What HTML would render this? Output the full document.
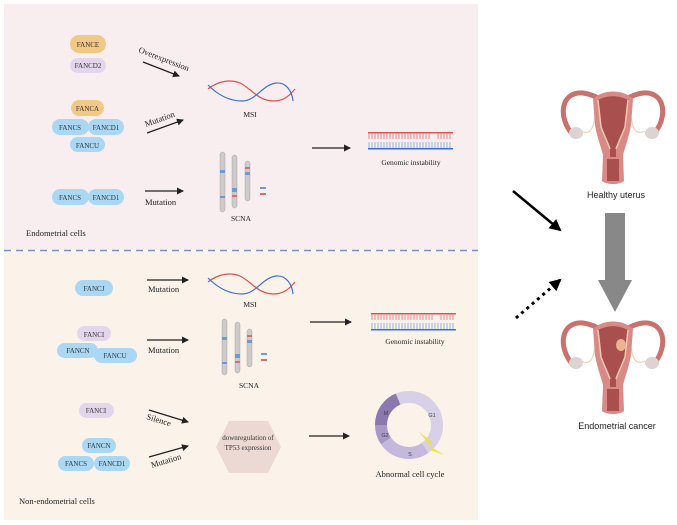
<!DOCTYPE html>
<html><head><meta charset="utf-8"><style>
html,body{margin:0;padding:0;background:#fff;}
svg{display:block;font-family:"Liberation Serif",serif;}
.s{font-family:"Liberation Sans",sans-serif;}
</style></head><body>
<svg width="677" height="525" viewBox="0 0 677 525" xmlns="http://www.w3.org/2000/svg">
<defs>
<marker id="ah" markerWidth="8" markerHeight="8" refX="6" refY="4" orient="auto" markerUnits="userSpaceOnUse"><path d="M0,0.5 L7,4 L0,7.5 z" fill="#222"/></marker>
<marker id="ah2" markerWidth="14" markerHeight="14" refX="10" refY="7" orient="auto" markerUnits="userSpaceOnUse"><path d="M0,1 L12,7 L0,13 z" fill="#000"/></marker>
<g id="ut">
 <path d="M-40,38 C-56,20 -52,-6 -30,-4 C-22,-3 -16,0 -10,4" fill="none" stroke="#c9716c" stroke-width="5"/>
 <path d="M40,38 C56,20 52,-6 30,-4 C22,-3 16,0 10,4" fill="none" stroke="#c9716c" stroke-width="5"/>
 <path d="M-32,34 C-24,38 -20,34 -18,20" fill="none" stroke="#f2d3b0" stroke-width="1.2"/>
 <path d="M32,34 C24,38 20,34 18,20" fill="none" stroke="#f2d3b0" stroke-width="1.2"/>
 <ellipse cx="-37" cy="36" rx="7" ry="6" fill="#ddd3d3"/>
 <ellipse cx="39" cy="36" rx="7" ry="6" fill="#ddd3d3"/>
 <path d="M-20,2 C-10,-8 10,-8 20,2 L18,28 C16,40 12,50 10,58 L11,84 C6,88 -6,88 -11,84 L-10,58 C-12,50 -16,40 -18,28 Z" fill="#d98a86"/>
 <path d="M-15,3 C-6,-2 6,-2 15,3 L12,30 C9,38 5,46 3,52 L3,60 L-3,60 L-3,52 C-5,46 -9,38 -12,30 Z" fill="#a9504e"/>
 <path d="M-15,3 L-12,30 C-9,38 -5,46 -3,52 M15,3 L12,30 C9,38 5,46 3,52" fill="none" stroke="#f1c7b4" stroke-width="1.5"/>
 <path d="M-6,62 L6,62 L6,84 L-6,84 Z" fill="#a9504e"/>
</g>
<g id="msi" fill="none" stroke-width="1.2">
 <path d="M0,6 C10,-2 22,-4 32,0 C44,6 50,18 66,18 C76,18 82,12 87,6" stroke="#d9534f"/>
 <path d="M0,2 C10,12 22,18 34,18 C48,18 54,2 68,0 C78,-1 84,8 85,18" stroke="#3a6fd8"/>
</g>
</defs>
<rect x="4" y="4" width="474" height="246" fill="#f8eeef"/>
<rect x="4" y="251" width="474" height="269" fill="#fbf3ea"/>
<line x1="4" y1="250.5" x2="478" y2="250.5" stroke="#7f8fc4" stroke-width="1.5" stroke-dasharray="7,5"/>

<g font-size="7" text-anchor="middle" fill="#333">
 <rect x="70" y="35" width="36" height="18" rx="9" fill="#f2c984"/><text x="88" y="47">FANCE</text>
 <rect x="70" y="58" width="36" height="15" rx="7.5" fill="#e3d6ec"/><text x="88" y="68">FANCD2</text>
 <rect x="71" y="100" width="33" height="16" rx="8" fill="#f2c984"/><text x="87.5" y="111">FANCA</text>
 <rect x="52" y="119" width="37" height="16" rx="8" fill="#aad8f4"/><text x="70" y="130">FANCS</text>
 <rect x="88" y="119" width="36" height="16" rx="8" fill="#aad8f4"/><text x="106" y="130">FANCD1</text>
 <rect x="70" y="137" width="35" height="15" rx="7.5" fill="#aad8f4"/><text x="87.5" y="148">FANCU</text>
 <rect x="52" y="189" width="37" height="16" rx="8" fill="#aad8f4"/><text x="70" y="200">FANCS</text>
 <rect x="88" y="189" width="36" height="16" rx="8" fill="#aad8f4"/><text x="106" y="200">FANCD1</text>

 <rect x="75" y="280" width="38" height="16" rx="8" fill="#aad8f4"/><text x="94" y="291">FANCJ</text>
 <rect x="77" y="326" width="34" height="15" rx="7.5" fill="#e3d6ec"/><text x="94" y="337">FANCI</text>
 <rect x="57" y="343" width="41" height="15" rx="7.5" fill="#aad8f4"/><text x="78" y="353">FANCN</text>
 <rect x="94" y="348" width="43" height="15" rx="7.5" fill="#aad8f4"/><text x="115" y="358">FANCU</text>
 <rect x="79" y="403" width="35" height="15" rx="7.5" fill="#e3d6ec"/><text x="96" y="413">FANCI</text>
 <rect x="82" y="438" width="34" height="15" rx="7.5" fill="#aad8f4"/><text x="99" y="448">FANCN</text>
 <rect x="58" y="456" width="36" height="15" rx="7.5" fill="#aad8f4"/><text x="76" y="466">FANCS</text>
 <rect x="94" y="456" width="36" height="15" rx="7.5" fill="#aad8f4"/><text x="112" y="466">FANCD1</text>
</g>

<g stroke="#222" stroke-width="1.3" marker-end="url(#ah)">
 <line x1="143" y1="62" x2="179" y2="76"/>
 <line x1="147" y1="133" x2="183" y2="120"/>
 <line x1="145" y1="191" x2="183" y2="191"/>
 <line x1="312" y1="148" x2="350" y2="148"/>
 <line x1="147" y1="280" x2="188" y2="280"/>
 <line x1="147" y1="340" x2="188" y2="340"/>
 <line x1="310" y1="322" x2="351" y2="322"/>
 <line x1="149" y1="410" x2="188" y2="422"/>
 <line x1="149" y1="457" x2="188" y2="446"/>
 <line x1="309" y1="436" x2="349" y2="436"/>
</g>
<g font-size="8.5" fill="#222">
 <text x="138" y="52" transform="rotate(21 138 52)">Overexpression</text>
 <text x="146" y="127" transform="rotate(-20 146 127)">Mutation</text>
 <text x="145" y="205">Mutation</text>
 <text x="148" y="292">Mutation</text>
 <text x="148" y="353">Mutation</text>
 <text x="146" y="419" transform="rotate(17 146 419)">Silence</text>
 <text x="152" y="468" transform="rotate(-17 152 468)">Mutation</text>
 <text x="26" y="236">Endometrial cells</text>
 <text x="19" y="504">Non-endometrial cells</text>
</g>

<use href="#msi" transform="translate(208,83)"/>
<use href="#msi" transform="translate(208,276)"/>
<g font-size="7.5" text-anchor="middle" fill="#222">
 <text x="250" y="117">MSI</text><text x="250" y="307">MSI</text>
 <text x="241" y="221">SCNA</text><text x="249" y="388">SCNA</text>
 <text x="411" y="165">Genomic instability</text><text x="415" y="344">Genomic instability</text>
</g>

<g>
 <rect x="220" y="152" width="5" height="60" rx="2.5" fill="#cfcaca" stroke="#999" stroke-width=".4"/>
 <rect x="232" y="155" width="5" height="53" rx="2.5" fill="#cfcaca" stroke="#999" stroke-width=".4"/>
 <rect x="245" y="161" width="5" height="40" rx="2.5" fill="#cfcaca" stroke="#999" stroke-width=".4"/>
 <rect x="220" y="170" width="5" height="3" fill="#6b9bd1"/><rect x="220" y="196" width="5" height="2" fill="#6b9bd1"/>
 <rect x="232" y="188" width="5" height="4" fill="#6b9bd1"/><rect x="232" y="195" width="5" height="2" fill="#d96c6c"/>
 <rect x="245" y="172" width="5" height="3" fill="#6b9bd1"/><rect x="245" y="167" width="5" height="2" fill="#d96c6c"/>
 <rect x="260" y="187" width="6" height="2" fill="#6b9bd1"/><rect x="260" y="193" width="6" height="2" fill="#d96c6c"/>
 <rect x="222" y="319" width="5" height="56" rx="2.5" fill="#cfcaca" stroke="#999" stroke-width=".4"/>
 <rect x="235" y="322" width="5" height="51" rx="2.5" fill="#cfcaca" stroke="#999" stroke-width=".4"/>
 <rect x="247" y="329" width="5" height="38" rx="2.5" fill="#cfcaca" stroke="#999" stroke-width=".4"/>
 <rect x="222" y="337" width="5" height="3" fill="#6b9bd1"/><rect x="222" y="362" width="5" height="2" fill="#6b9bd1"/>
 <rect x="235" y="354" width="5" height="4" fill="#6b9bd1"/><rect x="235" y="361" width="5" height="2" fill="#d96c6c"/>
 <rect x="247" y="340" width="5" height="3" fill="#6b9bd1"/><rect x="247" y="335" width="5" height="2" fill="#d96c6c"/>
 <rect x="261" y="353" width="6" height="2" fill="#6b9bd1"/><rect x="261" y="359" width="6" height="2" fill="#d96c6c"/>
</g>

<g>
 <rect x="368" y="132" width="85" height="1.5" fill="#d9534f"/>
 <path d="M369,133 v6 M372,133 v6 M375,133 v6 M378,133 v6 M381,133 v6 M384,133 v6 M387,133 v6 M390,133 v6 M393,133 v6 M396,133 v6 M399,133 v6 M402,133 v6 M405,133 v6 M408,133 v6 M411,133 v6 M414,133 v6 M417,133 v6 M420,133 v6 M423,133 v6 M426,133 v6 M429,133 v6 M438,133 v6 M441,133 v6 M444,133 v6 M447,133 v6 M450,133 v6" stroke="#e8878a" stroke-width="1"/>
 <path d="M369,142 v6 M372,142 v6 M375,142 v6 M378,142 v6 M381,142 v6 M384,142 v6 M387,142 v6 M390,142 v6 M393,142 v6 M396,142 v6 M399,142 v6 M402,142 v6 M405,142 v6 M408,142 v6 M411,142 v6 M414,142 v6 M417,142 v6 M420,142 v6 M423,142 v6 M426,142 v6 M429,142 v6 M432,142 v6 M435,142 v6 M438,142 v6 M441,142 v6 M444,142 v6 M447,142 v6 M450,142 v6" stroke="#8fb1e8" stroke-width="1"/>
 <rect x="368" y="148" width="85" height="1.5" fill="#3a6fd8"/>
 <rect x="371" y="313" width="85" height="1.5" fill="#d9534f"/>
 <path d="M372,314 v6 M375,314 v6 M378,314 v6 M381,314 v6 M384,314 v6 M387,314 v6 M390,314 v6 M393,314 v6 M396,314 v6 M399,314 v6 M402,314 v6 M405,314 v6 M408,314 v6 M411,314 v6 M414,314 v6 M417,314 v6 M420,314 v6 M423,314 v6 M426,314 v6 M429,314 v6 M432,314 v6 M441,314 v6 M444,314 v6 M447,314 v6 M450,314 v6 M453,314 v6" stroke="#e8878a" stroke-width="1"/>
 <path d="M372,323 v6 M375,323 v6 M378,323 v6 M381,323 v6 M384,323 v6 M387,323 v6 M390,323 v6 M393,323 v6 M396,323 v6 M399,323 v6 M402,323 v6 M405,323 v6 M408,323 v6 M411,323 v6 M414,323 v6 M417,323 v6 M420,323 v6 M423,323 v6 M426,323 v6 M429,323 v6 M432,323 v6 M435,323 v6 M438,323 v6 M441,323 v6 M444,323 v6 M447,323 v6 M450,323 v6 M453,323 v6" stroke="#8fb1e8" stroke-width="1"/>
 <rect x="371" y="329" width="85" height="1.5" fill="#3a6fd8"/>
</g>

<polygon points="229,421 268,421 281,447 268,473 229,473 216,447" fill="#ecd9d4"/>
<text x="248" y="440" font-size="7" text-anchor="middle" fill="#333">downregulation of</text>
<text x="248" y="450" font-size="7" text-anchor="middle" fill="#333">TP53 expression</text>

<g>
 <circle cx="409" cy="425" r="28" fill="none" stroke="#d7d0e6" stroke-width="12"/>
 <path d="M381,425 A28,28 0 0 1 398,399" fill="none" stroke="#8b78b0" stroke-width="12"/>
 <path d="M381,425 A28,28 0 0 0 386,441" fill="none" stroke="#a898c8" stroke-width="12"/>
 <path d="M386,441 A28,28 0 0 0 425,448" fill="none" stroke="#c4b8dc" stroke-width="12"/>
 <polygon points="418,431 432,442 428,445 444,455 430,450 432,447" fill="#f1e33a"/>
 <g font-size="5.5" class="s" fill="#444" text-anchor="middle"><text x="386" y="415">M</text><text x="385" y="437">G2</text><text x="410" y="456">S</text><text x="432" y="417">G1</text></g>
 <text x="410" y="477" font-size="8.5" text-anchor="middle" fill="#222">Abnormal cell cycle</text>
</g>

<use href="#ut" transform="translate(613,97)"/>
<use href="#ut" transform="translate(613,327)"/>
<ellipse cx="621" cy="345" rx="5" ry="6" fill="#eab48e"/>
<text x="616" y="198" font-size="9" class="s" text-anchor="middle" fill="#222">Healthy uterus</text>
<text x="617" y="429" font-size="9" class="s" text-anchor="middle" fill="#222">Endometrial cancer</text>
<rect x="605" y="213" width="20" height="67" fill="#888"/>
<polygon points="598,280 632,280 615,312" fill="#888"/>
<line x1="513" y1="191" x2="560" y2="230" stroke="#000" stroke-width="2.5" marker-end="url(#ah2)"/>
<line x1="516" y1="318" x2="560" y2="280" stroke="#000" stroke-width="3" stroke-dasharray="3,4" marker-end="url(#ah2)"/>
</svg>
</body></html>
